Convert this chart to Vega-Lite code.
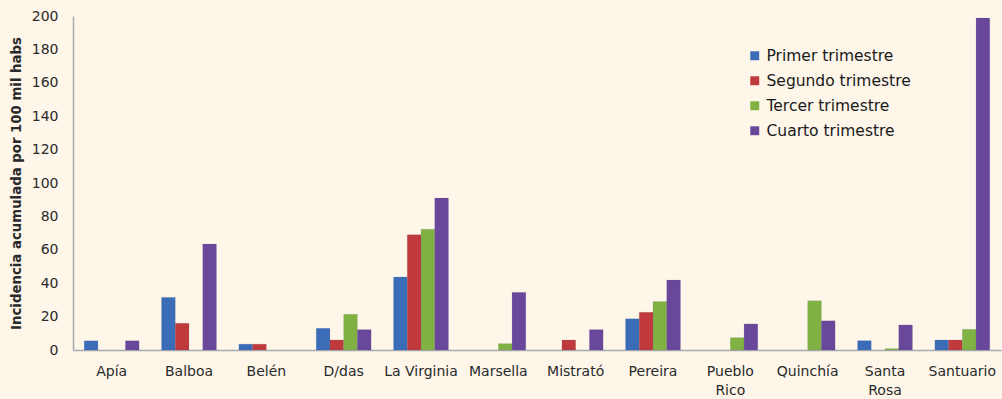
{
  "$schema": "https://vega.github.io/schema/vega-lite/v6.json",
  "width": 928,
  "height": 334,
  "autosize": "none",
  "padding": {"left": 73, "top": 16, "right": 1, "bottom": 49},
  "background": "#fdf6e9",
  "config": {"view": {"stroke": null}, "font": "DejaVu Sans"},
  "data": {"values": [
    {"m": "Apía", "t": "Primer trimestre", "v": 5.5},
    {"m": "Apía", "t": "Cuarto trimestre", "v": 5.5},
    {"m": "Balboa", "t": "Primer trimestre", "v": 31.5},
    {"m": "Balboa", "t": "Segundo trimestre", "v": 16},
    {"m": "Balboa", "t": "Cuarto trimestre", "v": 63.5},
    {"m": "Belén", "t": "Primer trimestre", "v": 3.5},
    {"m": "Belén", "t": "Segundo trimestre", "v": 3.5},
    {"m": "D/das", "t": "Primer trimestre", "v": 13},
    {"m": "D/das", "t": "Segundo trimestre", "v": 6},
    {"m": "D/das", "t": "Tercer trimestre", "v": 21.4},
    {"m": "D/das", "t": "Cuarto trimestre", "v": 12.2},
    {"m": "La Virginia", "t": "Primer trimestre", "v": 43.7},
    {"m": "La Virginia", "t": "Segundo trimestre", "v": 69},
    {"m": "La Virginia", "t": "Tercer trimestre", "v": 72.3},
    {"m": "La Virginia", "t": "Cuarto trimestre", "v": 91},
    {"m": "Marsella", "t": "Tercer trimestre", "v": 3.8},
    {"m": "Marsella", "t": "Cuarto trimestre", "v": 34.5},
    {"m": "Mistrató", "t": "Segundo trimestre", "v": 6},
    {"m": "Mistrató", "t": "Cuarto trimestre", "v": 12.2},
    {"m": "Pereira", "t": "Primer trimestre", "v": 18.7},
    {"m": "Pereira", "t": "Segundo trimestre", "v": 22.6},
    {"m": "Pereira", "t": "Tercer trimestre", "v": 29},
    {"m": "Pereira", "t": "Cuarto trimestre", "v": 41.9},
    {"m": "Pueblo Rico", "t": "Tercer trimestre", "v": 7.4},
    {"m": "Pueblo Rico", "t": "Cuarto trimestre", "v": 15.6},
    {"m": "Quinchía", "t": "Tercer trimestre", "v": 29.5},
    {"m": "Quinchía", "t": "Cuarto trimestre", "v": 17.5},
    {"m": "Santa Rosa", "t": "Primer trimestre", "v": 5.6},
    {"m": "Santa Rosa", "t": "Tercer trimestre", "v": 0.8},
    {"m": "Santa Rosa", "t": "Cuarto trimestre", "v": 15},
    {"m": "Santuario", "t": "Primer trimestre", "v": 6},
    {"m": "Santuario", "t": "Segundo trimestre", "v": 6},
    {"m": "Santuario", "t": "Tercer trimestre", "v": 12.4},
    {"m": "Santuario", "t": "Cuarto trimestre", "v": 198.8}
  ]},
  "mark": {"type": "bar", "stroke": "#5a5a7a", "strokeWidth": 0.3, "strokeOpacity": 0.4},
  "encoding": {
    "x": {
      "field": "m", "type": "nominal", "sort": null,
      "scale": {"domain": ["Apía","Balboa","Belén","D/das","La Virginia","Marsella","Mistrató","Pereira","Pueblo Rico","Quinchía","Santa Rosa","Santuario"], "paddingInner": 0.29, "paddingOuter": 0.145},
      "axis": {
        "title": null, "labelAngle": 0, "ticks": false, "domain": true,
        "domainColor": "#a9a9b0", "domainWidth": 1.5,
        "labelFontSize": 14, "labelColor": "#2a2a2a", "labelPadding": 14,
        "labelLineHeight": 19,
        "labelExpr": "datum.value == 'Pueblo Rico' ? ['Pueblo', 'Rico'] : datum.value == 'Santa Rosa' ? ['Santa', 'Rosa'] : datum.value"
      }
    },
    "xOffset": {
      "field": "t", "type": "nominal",
      "scale": {"domain": ["Primer trimestre","Segundo trimestre","Tercer trimestre","Cuarto trimestre"], "paddingInner": 0, "paddingOuter": 0}
    },
    "y": {
      "field": "v", "type": "quantitative",
      "scale": {"domain": [0, 200], "nice": false},
      "axis": {
        "title": "Incidencia acumulada por 100 mil habs",
        "titleFontSize": 13.3, "titleFontWeight": "bold", "titleColor": "#2a2a2a",
        "titlePadding": 8,
        "values": [0,20,40,60,80,100,120,140,160,180,200],
        "grid": false, "ticks": false, "domain": true,
        "domainColor": "#a9a9b0", "domainWidth": 1.5,
        "labelFontSize": 14, "labelColor": "#2a2a2a", "labelPadding": 15
      }
    },
    "color": {
      "field": "t", "type": "nominal",
      "scale": {"domain": ["Primer trimestre","Segundo trimestre","Tercer trimestre","Cuarto trimestre"], "range": ["#3a6cb8","#c03a3c","#80b243","#69479a"]},
      "legend": {
        "title": null, "orient": "none", "legendX": 674, "legendY": 32,
        "symbolType": "square", "symbolSize": 80, "symbolStrokeWidth": 0,
        "labelFontSize": 15.5, "labelColor": "#1a1a1a", "labelOffset": 4,
        "rowPadding": 8
      }
    }
  }
}
